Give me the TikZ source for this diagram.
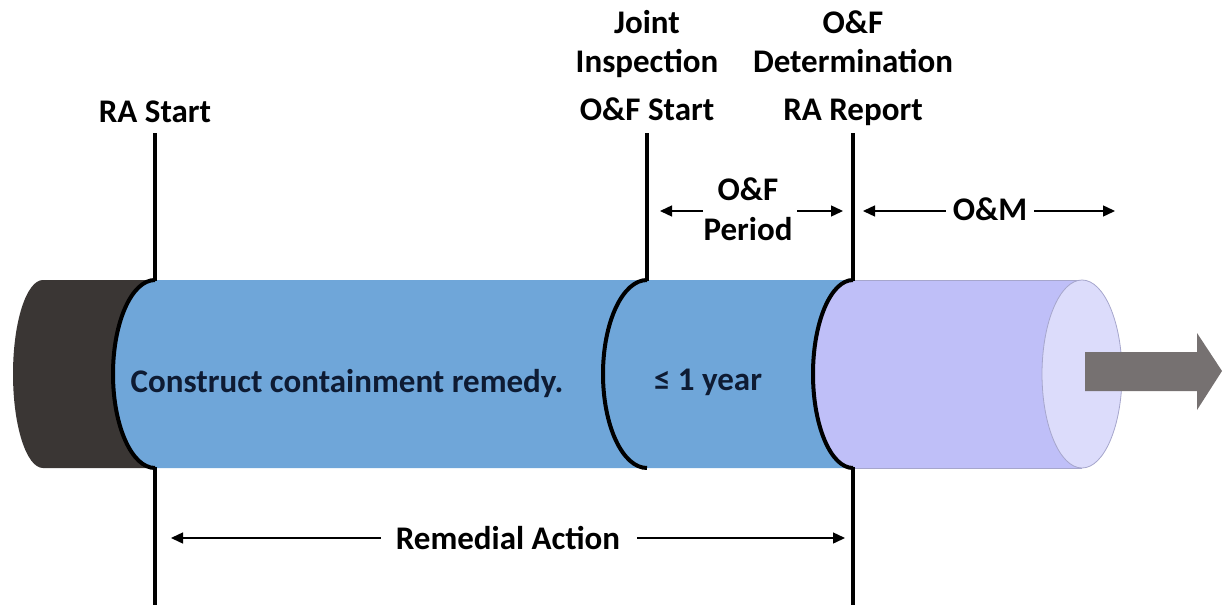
\documentclass[tikz,border=0pt]{standalone}
\usepackage{fontspec}
\setmainfont{Carlito}
\usetikzlibrary{arrows.meta}
\definecolor{darkseg}{HTML}{3A3634}
\definecolor{blueseg}{HTML}{6FA6D9}
\definecolor{lavseg}{HTML}{BFBFF8}
\definecolor{lavend}{HTML}{DCDCFB}
\definecolor{lavedge}{HTML}{A6A6CC}
\definecolor{grayarrow}{HTML}{767171}
\definecolor{navytext}{HTML}{0E1B33}
\begin{document}
\begin{tikzpicture}[x=1pt,y=-1pt,
  lbl/.style={font=\fontsize{33}{39}\selectfont\bfseries, inner sep=0pt, align=center},
  inlbl/.style={lbl, text=navytext},
  tick/.style={line width=4.5pt, black},
  seam/.style={line width=4pt, black},
  dim/.style={line width=1.4pt, -{Triangle[length=12pt,width=11pt]}},
]
\useasboundingbox (0,0) rectangle (1223,605);

% dark segment
\fill[darkseg] (43,280) -- (155,280) arc[start angle=270, end angle=90, x radius=42, y radius=94]
  -- (43,468) arc[start angle=90, end angle=270, x radius=30, y radius=94] -- cycle;
% lavender segment
\fill[lavseg] (1082,280) -- (853,280) arc[start angle=270, end angle=90, x radius=40, y radius=94]
  -- (1082,468) -- cycle;
\draw[lavedge, line width=0.8pt] (853,280) -- (1082,280) (853,468) -- (1082,468);
\filldraw[fill=lavend, draw=lavedge, line width=0.8pt] (1082,374) ellipse[x radius=40, y radius=94];
% blue segment
\fill[blueseg] (155,280) -- (853,280) arc[start angle=270, end angle=90, x radius=40, y radius=94]
  -- (155,468) arc[start angle=90, end angle=270, x radius=42, y radius=94] -- cycle;

% seams
\draw[seam] (155,280) arc[start angle=270, end angle=90, x radius=42, y radius=94];
\draw[seam] (647,280) arc[start angle=270, end angle=90, x radius=44, y radius=94];
\draw[seam] (853,280) arc[start angle=270, end angle=90, x radius=40, y radius=94];

% big gray arrow
\fill[grayarrow] (1085,352) -- (1197,352) -- (1197,333) -- (1222,371) -- (1197,410)
  -- (1197,391) -- (1085,391) -- cycle;

% tick lines
\coordinate (raT) at (155,133); \coordinate (raM) at (155,281);
\coordinate (raL) at (155,467); \coordinate (raE) at (155,605);
\coordinate (ofT) at (647,133); \coordinate (ofM) at (647,281);
\coordinate (rrT) at (853,133); \coordinate (rrM) at (853,281);
\coordinate (rrL) at (853,467); \coordinate (rrE) at (853,605);
\draw[tick] (raT) -- (raM) (raL) -- (raE);
\draw[tick] (ofT) -- (ofM);
\draw[tick] (rrT) -- (rrM) (rrL) -- (rrE);

% top labels
\node[lbl, anchor=base] (rastart) at (155,122) {RA Start};
\node[lbl, anchor=base] (joint) at (647,33) {Joint};
\node[lbl, anchor=base] (insp) at (647,72) {Inspection};
\node[lbl, anchor=base] (ofstart) at (647,120) {O\&F Start};
\node[lbl, anchor=base] (of1) at (853,33) {O\&F};
\node[lbl, anchor=base] (det) at (853,72) {Determination};
\node[lbl, anchor=base] (rarep) at (853,120) {RA Report};

% O&F period
\node[lbl, anchor=base] (ofp1) at (748,200) {O\&F};
\node[lbl, anchor=base] (ofp2) at (748,240) {Period};
\coordinate (opA) at (703,211); \coordinate (opB) at (660,211);
\coordinate (opC) at (797,211); \coordinate (opD) at (843,211);
\draw[dim] (opA) -- (opB);
\draw[dim] (opC) -- (opD);

% O&M
\node[lbl, anchor=base] (om) at (990,220) {O\&M};
\coordinate (omL) at (863,211); \coordinate (omR) at (1115,211);
\draw[dim, shorten <=7pt] (om.west |- omL) -- (omL);
\draw[dim, shorten <=7pt] (om.east |- omR) -- (omR);

% Remedial action
\node[lbl, anchor=base] (remact) at (508,549) {Remedial Action};
\coordinate (reL) at (171,538); \coordinate (reR) at (845,538);
\draw[dim, shorten <=15pt] (remact.west |- reL) -- (reL);
\draw[dim, shorten <=17pt] (remact.east |- reR) -- (reR);

% inner labels
\node[inlbl, anchor=base] (construct) at (347,392) {Construct containment remedy.};
\node[inlbl, anchor=base] (year) at (708,390) {≤ 1 year};
\end{tikzpicture}
\end{document}
